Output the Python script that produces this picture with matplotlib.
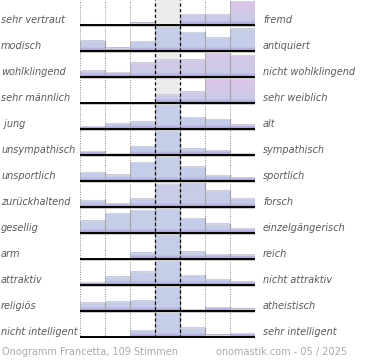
import numpy as np
import matplotlib
matplotlib.use("Agg")
import matplotlib.pyplot as plt
from matplotlib.transforms import blended_transform_factory

links = ["sehr vertraut", "modisch", "wohlklingend", "sehr männlich", " jung",
         "unsympathisch", "unsportlich", "zurückhaltend", "gesellig", "arm",
         "attraktiv", "religiös", "nicht intelligent"]
rechts = ["fremd", "antiquiert", "nicht wohlklingend", "sehr weiblich", "alt",
          "sympathisch", "sportlich", "forsch", "einzelgängerisch", "reich",
          "nicht attraktiv", "atheistisch", "sehr intelligent"]

# Balkenhöhen je Zeile (7 Stufen, relativ zum Zeilenmaximum)
werte = [
    [0.04, 0.00, 0.10, 0.00, 0.45, 0.45, 1.00],
    [0.43, 0.13, 0.40, 1.00, 0.78, 0.56, 0.92],
    [0.26, 0.20, 0.60, 0.72, 0.72, 1.00, 0.90],
    [0.00, 0.00, 0.00, 0.35, 0.47, 1.00, 1.00],
    [0.12, 0.25, 0.30, 1.00, 0.48, 0.40, 0.17],
    [0.15, 0.07, 0.36, 1.00, 0.27, 0.20, 0.07],
    [0.37, 0.27, 0.78, 1.00, 0.60, 0.23, 0.15],
    [0.29, 0.16, 0.34, 0.94, 1.00, 0.67, 0.37],
    [0.51, 0.82, 0.95, 1.00, 0.61, 0.39, 0.20],
    [0.00, 0.00, 0.27, 1.00, 0.31, 0.20, 0.17],
    [0.12, 0.35, 0.55, 1.00, 0.40, 0.25, 0.16],
    [0.34, 0.38, 0.42, 1.00, 0.07, 0.15, 0.10],
    [0.02, 0.02, 0.29, 1.00, 0.39, 0.10, 0.16],
]

fusszeile_links = "Onogramm Francetta, 109 Stimmen"
fusszeile_rechts = "onomastik.com - 05 / 2025"

W, H = 370, 360
fig = plt.figure(figsize=(W / 100, H / 100), dpi=100)
ax = fig.add_axes([80 / W, 1 - 338 / H, 175 / W, 338 / H])
ax.set_axis_off()

n = len(werte)
hoch = 24 / 26.0
blau = np.array([197, 205, 233]) / 255
rosa = np.array([222, 196, 230]) / 255
lila = np.array([172, 162, 212]) / 255

# grauer Mittelbereich
ax.axvspan(3, 4, color="#ececec", zorder=0, lw=0)
for x in [0, 1, 2, 5, 6]:
    ax.axvline(x, color="#888888", ls=(0, (1, 1.5)), lw=0.7, zorder=1)

for i, row in enumerate(werte):
    base = i + 25 / 26.0
    row = np.array(row)
    mx = row.max()
    tint = np.clip((mx - row[3]) / mx * 3, 0, 1)
    for j, h in enumerate(row):
        if h <= 0:
            continue
        f = np.linspace(0, h, 40)
        col = blau[None, :] * (1 - tint * f[:, None]) + rosa[None, :] * tint * f[:, None]
        band = np.clip((0.16 - f * 1.0) / 0.12, 0, 1)[:, None]
        col = col * (1 - band) + lila[None, :] * band
        ax.imshow(col[:, None, :], extent=(j, j + 1, base, base - h * hoch),
                  origin="lower", aspect="auto", interpolation="bilinear", zorder=2)
        top = base - h * hoch
        ax.plot([j, j + 1], [top, top], color="#d4d4d8", lw=0.8, zorder=3)
        ax.plot([j + 1, j + 1], [top, base], color="#9a9a9a", lw=0.8, zorder=3)
        ax.plot([j, j], [top, base], color="#a8a8a8", lw=0.6, zorder=3)
    ax.plot([0, 7], [base + 0.04, base + 0.04], color="#c8c8c8", lw=0.7, zorder=4)
    ax.plot([0, 7], [base, base], color="black", lw=1.4, zorder=5)

for x in [3, 4]:
    ax.axvline(x, color="black", ls=(0, (2.5, 2)), lw=0.9, zorder=6)

ax.set_xlim(0, 7)
ax.set_ylim(n, 0)

tr = blended_transform_factory(fig.transFigure, ax.transData)
for i in range(n):
    y = i + 25 / 26.0 - 0.2
    ax.text(1 / W, y, links[i], transform=tr, ha="left", va="center",
            fontsize=7, style="italic", color="#5a5a5a")
    ax.text(263 / W, y, rechts[i], transform=tr, ha="left", va="center",
            fontsize=7, style="italic", color="#5a5a5a")

fig.text(2 / W, 1 - 352 / H, fusszeile_links, ha="left", va="center",
         fontsize=7, color="#aaaaaa")
fig.text(347 / W, 1 - 352 / H, fusszeile_rechts, ha="right", va="center",
         fontsize=7, color="#aaaaaa")

fig.savefig("out.png", dpi=100)
